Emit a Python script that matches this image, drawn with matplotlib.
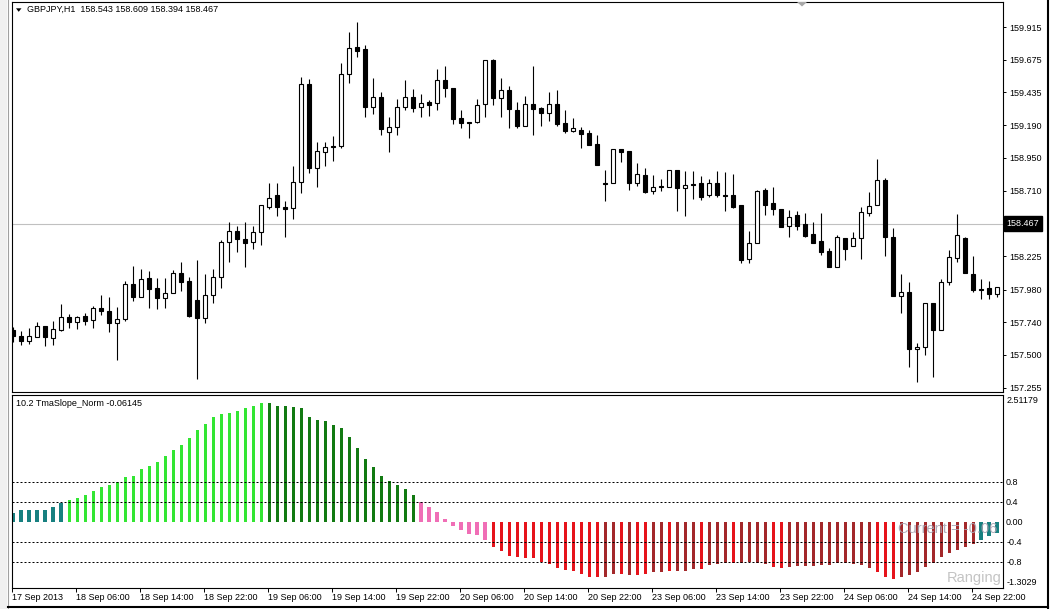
import matplotlib
matplotlib.use("Agg")
import matplotlib.pyplot as plt
from matplotlib.patches import Polygon, Rectangle
from matplotlib.lines import Line2D
from matplotlib.transforms import blended_transform_factory
import numpy as np

plt.rcParams["font.family"] = ["Liberation Sans", "DejaVu Sans"]

W, H = 1051, 609

# GBPJPY H1 candles, 17 Sep 22:00 .. 25 Sep 01:00
opens = [
    157.681, 157.638, 157.601, 157.631, 157.712, 157.623, 157.681, 157.778, 157.741, 157.785,
    157.756, 157.844, 157.822, 157.734, 157.763, 158.021, 157.925, 158.065, 157.991, 157.918,
    157.955, 158.101, 158.043, 157.903, 157.771, 157.940, 158.072, 158.331, 158.412, 158.353,
    158.331, 158.404, 158.588, 158.677, 158.588, 158.581, 158.773, 159.495, 158.876, 158.994,
    159.038, 159.038, 159.569, 159.768, 159.753, 159.326, 159.399, 159.141, 159.178, 159.326,
    159.399, 159.326, 159.362, 159.355, 159.525, 159.466, 159.244, 159.215, 159.215, 159.348,
    159.672, 159.392, 159.451, 159.303, 159.186, 159.348, 159.318, 159.281, 159.348, 159.207,
    159.149, 159.156, 159.134, 159.053, 158.766, 158.766, 159.016, 159.001, 158.766, 158.824,
    158.707, 158.743, 158.736, 158.861, 158.729, 158.758, 158.766, 158.677, 158.766, 158.677,
    158.677, 158.603, 158.205, 158.323, 158.714, 158.618, 158.574, 158.449, 158.530, 158.463,
    158.390, 158.338, 158.264, 158.146, 158.360, 158.301, 158.360, 158.544, 158.603, 158.788,
    158.367, 157.933, 157.962, 157.542, 157.557, 157.881, 157.681, 158.036, 158.213, 158.360,
    158.094, 157.984, 157.991, 157.947,
]
highs = [
    157.704, 157.674, 157.697, 157.741, 157.712, 157.749, 157.874, 157.800, 157.785, 157.808,
    157.859, 157.940, 157.925, 157.852, 158.043, 158.154, 158.132, 158.117, 158.065, 158.065,
    158.123, 158.183, 158.072, 158.198, 158.094, 158.132, 158.345, 158.477, 158.449, 158.477,
    158.449, 158.603, 158.764, 158.764, 158.633, 158.891, 159.547, 159.532, 159.068, 159.068,
    159.112, 159.650, 159.878, 159.952, 159.782, 159.539, 159.436, 159.252, 159.385, 159.525,
    159.458, 159.421, 159.377, 159.606, 159.628, 159.466, 159.303, 159.215, 159.385, 159.672,
    159.679, 159.539, 159.480, 159.362, 159.407, 159.628, 159.326, 159.436, 159.451, 159.303,
    159.244, 159.178, 159.156, 159.119, 158.861, 159.016, 159.016, 159.001, 158.913, 158.876,
    158.824, 158.795, 158.861, 158.861, 158.854, 158.854, 158.817, 158.795, 158.854, 158.847,
    158.831, 158.603, 158.412, 158.714, 158.729, 158.736, 158.574, 158.566, 158.559, 158.544,
    158.477, 158.544, 158.286, 158.382, 158.360, 158.404, 158.588, 158.699, 158.942, 158.802,
    158.434, 158.094, 158.036, 157.587, 157.881, 157.881, 158.058, 158.271, 158.537, 158.367,
    158.228, 158.058, 158.043, 157.999,
]
lows = [
    157.594, 157.572, 157.579, 157.631, 157.564, 157.572, 157.674, 157.697, 157.689, 157.719,
    157.697, 157.793, 157.667, 157.461, 157.749, 157.896, 157.925, 157.844, 157.837, 157.844,
    157.955, 157.970, 157.778, 157.321, 157.734, 157.881, 157.991, 158.183, 158.257, 158.146,
    158.279, 158.309, 158.574, 158.522, 158.367, 158.500, 158.692, 158.839, 158.736, 158.891,
    158.928, 159.023, 159.502, 159.694, 159.252, 159.274, 159.119, 158.994, 159.119, 159.303,
    159.289, 159.252, 159.259, 159.303, 159.399, 159.200, 159.171, 159.097, 159.207, 159.252,
    159.340, 159.252, 159.171, 159.171, 159.186, 159.119, 159.186, 159.222, 159.186, 159.134,
    159.141, 159.023, 159.046, 158.898, 158.633, 158.766, 158.920, 158.714, 158.743, 158.692,
    158.684, 158.707, 158.736, 158.559, 158.522, 158.648, 158.640, 158.662, 158.662, 158.559,
    158.581, 158.176, 158.176, 158.323, 158.530, 158.530, 158.441, 158.367, 158.419, 158.367,
    158.323, 158.235, 158.146, 158.146, 158.198, 158.301, 158.205, 158.522, 158.603, 158.228,
    157.933, 157.808, 157.410, 157.299, 157.498, 157.336, 157.681, 158.014, 158.183, 158.101,
    157.962, 157.911, 157.911, 157.925,
]
closes = [
    157.638, 157.601, 157.638, 157.712, 157.631, 157.689, 157.778, 157.741, 157.778, 157.749,
    157.844, 157.822, 157.734, 157.763, 158.021, 157.925, 158.058, 157.984, 157.918, 157.955,
    158.101, 158.036, 157.785, 157.771, 157.940, 158.072, 158.331, 158.412, 158.353, 158.323,
    158.404, 158.603, 158.655, 158.588, 158.574, 158.773, 159.495, 158.876, 159.001, 159.031,
    159.031, 159.569, 159.760, 159.738, 159.326, 159.399, 159.163, 159.178, 159.326, 159.399,
    159.318, 159.355, 159.340, 159.525, 159.466, 159.237, 159.207, 159.207, 159.340, 159.672,
    159.392, 159.451, 159.311, 159.186, 159.348, 159.311, 159.281, 159.348, 159.200, 159.149,
    159.171, 159.127, 159.046, 158.898, 158.758, 159.016, 158.994, 158.766, 158.831, 158.699,
    158.736, 158.736, 158.861, 158.729, 158.751, 158.751, 158.662, 158.766, 158.677, 158.670,
    158.588, 158.198, 158.323, 158.707, 158.603, 158.574, 158.441, 158.515, 158.449, 158.375,
    158.323, 158.257, 158.146, 158.367, 158.279, 158.360, 158.552, 158.596, 158.788, 158.367,
    157.933, 157.962, 157.542, 157.557, 157.881, 157.681, 158.036, 158.220, 158.382, 158.101,
    157.976, 157.976, 157.947, 157.999,
]

# TmaSlope_Norm histogram
slope = [
    0.18, 0.227, 0.227, 0.227, 0.233, 0.30, 0.367, 0.427, 0.467, 0.527,
    0.607, 0.687, 0.727, 0.80, 0.887, 0.907, 1.047, 1.12, 1.193, 1.307,
    1.427, 1.527, 1.667, 1.827, 1.947, 2.087, 2.147, 2.167, 2.207, 2.267,
    2.307, 2.367, 2.367, 2.307, 2.307, 2.287, 2.267, 2.087, 2.027, 2.007,
    1.927, 1.867, 1.687, 1.467, 1.247, 1.087, 0.907, 0.807, 0.727, 0.653,
    0.527, 0.40, 0.293, 0.187, 0.047, -0.093, -0.167, -0.247, -0.267, -0.367,
    -0.507, -0.587, -0.687, -0.707, -0.727, -0.727, -0.807, -0.847, -0.927, -0.967,
    -0.987, -1.047, -1.107, -1.107, -1.107, -1.047, -1.047, -1.067, -1.067, -1.047,
    -1.007, -1.007, -0.987, -0.987, -0.987, -0.947, -0.953, -0.873, -0.853, -0.827,
    -0.827, -0.827, -0.807, -0.827, -0.853, -0.907, -0.933, -0.907, -0.887, -0.887,
    -0.887, -0.873, -0.867, -0.827, -0.827, -0.853, -0.867, -0.933, -1.007, -1.107,
    -1.147, -1.107, -1.067, -1.007, -0.907, -0.827, -0.707, -0.627, -0.567, -0.507,
    -0.447, -0.367, -0.287, -0.22,
]
# T teal, G lime, D dark green, P pink, R red, B brown
slope_state = (
    "TTTTTTTGGG" "GGGGGGGGGG" "GGGGGGGGGG" "GGDDDDDDDD"
    "DDDDDDDDDD" "DPPPPPPPPP" "RRRRRRRRRR" "RRRRBBRBRR"
    "BBRBBBRBBB" "RBBBBRRBBB" "BBBBBBBBRR" "RBBBBBBBBB"
    "BTTT"
)

price_ticks = [159.915, 159.675, 159.435, 159.190, 158.950, 158.710,
               158.225, 157.980, 157.740, 157.500, 157.255]
bid_price = 158.467
level_ticks = [0.8, 0.4, 0.0, -0.4, -0.8]
level_labels = ["0.8", "0.4", "0.00", "-0.4", "-0.8"]
time_labels = ["17 Sep 2013", "18 Sep 06:00", "18 Sep 14:00", "18 Sep 22:00",
               "19 Sep 06:00", "19 Sep 14:00", "19 Sep 22:00", "20 Sep 06:00",
               "20 Sep 14:00", "20 Sep 22:00", "23 Sep 06:00", "23 Sep 14:00",
               "23 Sep 22:00", "24 Sep 06:00", "24 Sep 14:00", "24 Sep 22:00"]

state_colors = {"T": "#178080", "G": "#33e633", "D": "#127a12",
                "P": "#f06eb6", "R": "#e6131b", "B": "#a3282a"}
state_width = {"T": 0.5, "P": 0.5, "G": 0.375, "D": 0.375, "R": 0.375, "B": 0.375}


def px_box(x0, y0, x1, y1):
    return [x0 / W, 1 - y1 / H, (x1 - x0) / W, (y1 - y0) / H]


def fig_xy(x, y):
    return (x / W, 1 - y / H)


fig = plt.figure(figsize=(W / 100, H / 100), dpi=100)
ax = fig.add_axes(px_box(11.5, 1.5, 1002.5, 391.5))
ax2 = fig.add_axes(px_box(11.5, 394.5, 1002.5, 587.5))

o = np.array(opens)
h = np.array(highs)
l = np.array(lows)
c = np.array(closes)
x = np.arange(len(c))
up = c >= o

# candles
ax.vlines(x, l, h, color="black", lw=0.8, zorder=2)
bottom = np.minimum(o, c)
height = np.maximum(np.abs(c - o), 0.0005)
ax.bar(x[up], height[up], 0.5, bottom=bottom[up], facecolor="white",
       edgecolor="black", lw=0.8, zorder=3)
ax.bar(x[~up], height[~up], 0.5, bottom=bottom[~up], facecolor="black",
       edgecolor="black", lw=0.8, zorder=3)
ax.axhline(bid_price, color="#c0c0c0", lw=0.8, zorder=1)

ax.set_xlim(-0.1875, 123.6875)
ax.set_ylim(157.229, 160.103)
ax.set_xticks([])
ax.yaxis.tick_right()
ax.set_yticks(price_ticks)
ax.set_yticklabels([f"{p:.3f}" for p in price_ticks])
ax.tick_params(axis="y", direction="out", length=2.2, width=0.7, pad=2.5,
               labelsize=6.5, colors="black")

trans = blended_transform_factory(ax.transAxes, ax.transData)
ax.text(1.0042, bid_price, f"{bid_price:.3f}", transform=trans, color="white",
        fontsize=6.5, ha="left", va="center",
        bbox=dict(boxstyle="square,pad=0.3", fc="black", ec="black"))

# indicator
colors = [state_colors[s] for s in slope_state]
widths = [state_width[s] for s in slope_state]
ax2.bar(x, slope, width=widths, color=colors, lw=0, zorder=2)
for lv in [0.8, 0.4, -0.4, -0.8]:
    ax2.axhline(lv, color="black", lw=0.72, linestyle=(0, (2, 2)), zorder=3)

ax2.set_xlim(-0.1875, 123.6875)
ax2.set_ylim(-1.32, 2.54)
ax2.yaxis.tick_right()
ax2.set_yticks(level_ticks)
ax2.set_yticklabels(level_labels)
ax2.tick_params(axis="y", length=0, pad=2.6, labelsize=6.5)
trans2 = blended_transform_factory(ax2.transAxes, ax2.transData)
ax2.text(1.0037, 2.51179, "2.51179", transform=trans2, fontsize=6.5,
         ha="left", va="top")
ax2.text(1.0037, -1.3029, "-1.3029", transform=trans2, fontsize=6.5,
         ha="left", va="bottom")

ax2.set_xticks([8 * k - 0.125 for k in range(len(time_labels))])
ax2.set_xticklabels(time_labels)
ax2.tick_params(axis="x", direction="out", length=2.9, width=0.7, pad=1.2,
                labelsize=6.5)
for lbl in ax2.get_xticklabels():
    lbl.set_ha("left")

ax2.text(0.9945, 0.305, "Current = -0.06", transform=ax2.transAxes,
         fontsize=10.5, color="#a8a4b2", alpha=0.9, ha="right", va="center",
         zorder=5)
ax2.text(0.9995, 0.05, "Ranging", transform=ax2.transAxes, fontsize=10.5,
         color="#c4c4c4", ha="right", va="center", zorder=5)

for a in (ax, ax2):
    for sp in a.spines.values():
        sp.set_color("black")
        sp.set_linewidth(0.8)

# window decoration
fig.text(*fig_xy(27, 9.5), "GBPJPY,H1  158.543 158.609 158.394 158.467",
         fontsize=6.5, ha="left", va="center")
fig.text(*fig_xy(16, 403), "10.2 TmaSlope_Norm -0.06145", fontsize=6.5,
         ha="left", va="center")
fig.patches.append(Polygon([fig_xy(16, 8.3), fig_xy(21.5, 8.3), fig_xy(18.7, 11.8)],
                           closed=True, fc="black", ec="none",
                           transform=fig.transFigure))
fig.patches.append(Polygon([fig_xy(797, 2), fig_xy(807, 2), fig_xy(802, 6.5)],
                           closed=True, fc="#a8a8a8", ec="none",
                           transform=fig.transFigure, zorder=5))
fig.patches.append(Rectangle(fig_xy(0, 609), 7 / W, 1, fc="#f0f0f0", ec="none",
                             transform=fig.transFigure, zorder=0))
fig.lines.append(Line2D([7.5 / W, 7.5 / W], [0, 1], color="#a0a0a0", lw=0.8,
                        transform=fig.transFigure))
fig.lines.append(Line2D([1047.5 / W, 1047.5 / W], [0, 1], color="black", lw=1.5,
                        transform=fig.transFigure))
fig.lines.append(Line2D([7.5 / W, 1048 / W], [1 - 606.5 / H, 1 - 606.5 / H],
                        color="black", lw=1.5, transform=fig.transFigure))

fig.savefig("out.png", dpi=100)
